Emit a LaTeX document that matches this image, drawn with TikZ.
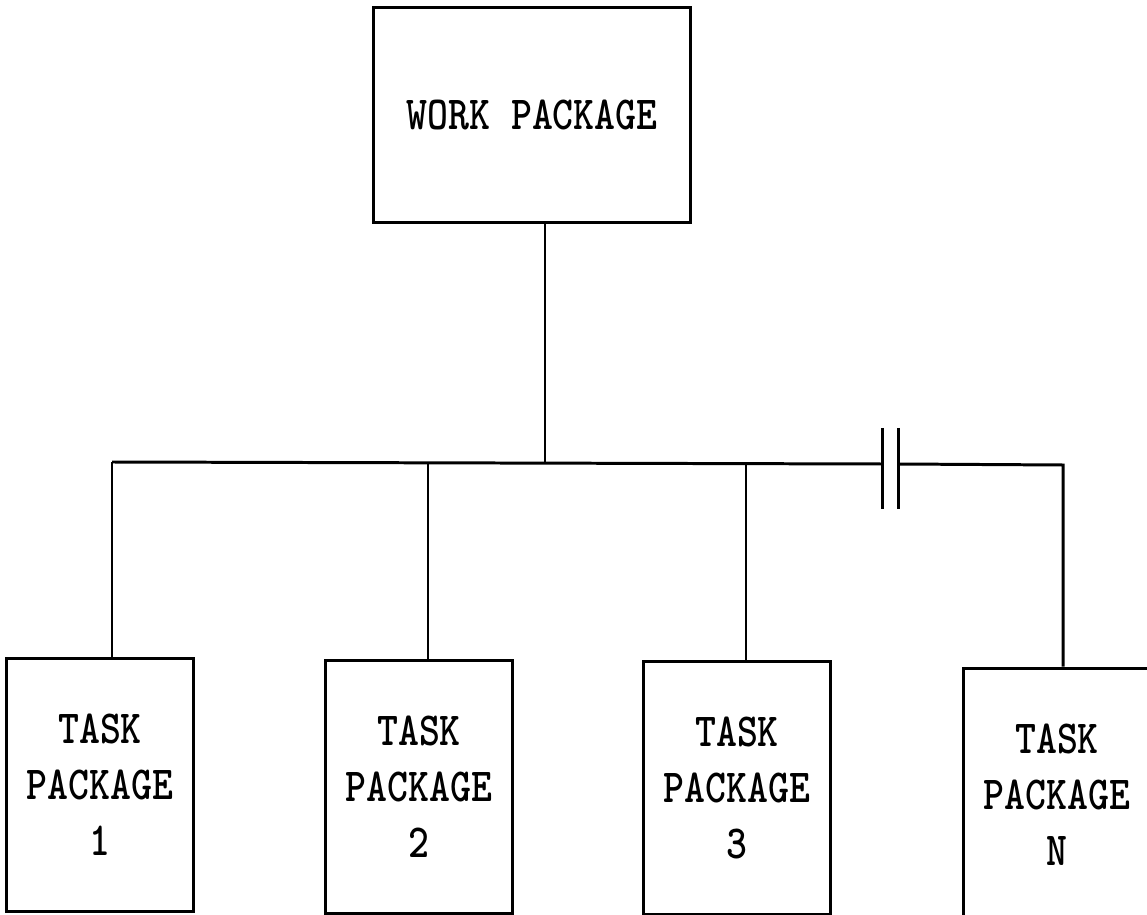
\documentclass[tikz,border=0pt]{standalone}
\usepackage{fontspec}
\newfontfamily\plotfont{lmmonolt10-bold}[Extension=.otf, FakeStretch=0.84]
\tikzset{
  chart/.style={
    line width=1.7pt,
    line join=miter
  },
  pkg-box/.style={
    draw=black,
    line width=1.7pt,
    align=center,
    inner sep=0pt,
    font=\plotfont\fontsize{27}{31.9}\selectfont
  },
  work-box/.style={pkg-box, minimum width=6.36cm, minimum height=4.32cm},
  task-box/.style={pkg-box, minimum width=3.76cm, minimum height=5.08cm}
}

\begin{document}
\begin{tikzpicture}[x=0.02cm, y=-0.02cm, chart]
  \useasboundingbox (0,0) rectangle (1147,915);
  \clip (0,0) rectangle (1147,915);

  % --- Boxes ---
  \node[work-box] (wp) at (532,115) {WORK PACKAGE};
  \node[task-box] (tp1) at (100,785) {TASK\\PACKAGE\\1};
  \node[task-box] (tp2) at (419,787) {TASK\\PACKAGE\\2};
  \node[task-box] (tp3) at (737,788) {TASK\\PACKAGE\\3};
  \node[task-box] (tpN) at (1057,795) {TASK\\PACKAGE\\N};

  % --- Bus points ---
  \coordinate (bw) at (545,463);
  \coordinate (b1) at (112,462);
  \coordinate (b2) at (428,463);
  \coordinate (b3) at (746,463);
  \coordinate (bN) at (1063,465);
  \coordinate (gapL) at (882,464);
  \coordinate (gapR) at (898,464);

  % --- Connectors ---
  \draw (wp.south -| bw) -- (bw);
  \draw (b1) -- (gapL);
  \draw (gapR) -- (bN) -- (bN |- tpN.north);
  \foreach \i in {1,2,3} {
    \draw (b\i) -- (b\i |- tp\i.north);
  }

  % break in the bus
  \draw (882,428) -- (882,509);
  \draw (898,428) -- (898,509);
\end{tikzpicture}
\end{document}
